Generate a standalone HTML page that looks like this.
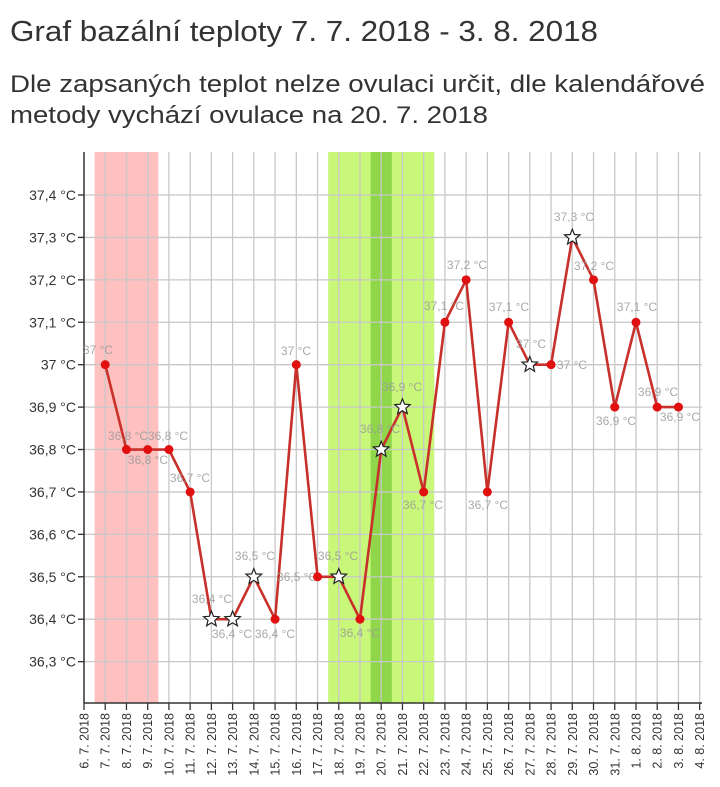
<!DOCTYPE html>
<html><head><meta charset="utf-8"><style>
body{margin:0;background:#fff;width:720px;height:782px;overflow:hidden;font-family:"Liberation Sans",sans-serif}
</style></head><body>
<svg width="720" height="782" xmlns="http://www.w3.org/2000/svg" font-family="Liberation Sans, sans-serif">
<text x="10" y="41" font-size="29" fill="#333" textLength="588" lengthAdjust="spacingAndGlyphs">Graf bazální teploty 7. 7. 2018 - 3. 8. 2018</text>
<text x="10" y="92" font-size="24" fill="#333" textLength="695" lengthAdjust="spacingAndGlyphs">Dle zapsaných teplot nelze ovulaci určit, dle kalendářové</text>
<text x="10" y="123" font-size="24" fill="#333" textLength="478" lengthAdjust="spacingAndGlyphs">metody vychází ovulace na 20. 7. 2018</text>
<g id="c"></g>
</svg>
<script>
const g=document.getElementById('c');const NS='http://www.w3.org/2000/svg';
function el(t,a,txt){const e=document.createElementNS(NS,t);for(const k in a)e.setAttribute(k,a[k]);if(txt!==undefined)e.textContent=txt;g.appendChild(e);return e;}
const x0=84,dx=21.23,X=i=>x0+i*dx,Y=v=>195+(37.4-v)*424.2;
el('rect',{x:X(1)-dx/2,y:152,width:dx*3,height:551,fill:'#ffc0c0'});
el('rect',{x:X(12)-dx/2,y:152,width:dx*5,height:551,fill:'#c8f77a'});
el('rect',{x:X(14)-dx/2,y:152,width:dx,height:551,fill:'#8fd64a'});
for(let i=1;i<=29;i++)el('line',{x1:X(i),y1:152,x2:X(i),y2:703,stroke:'#c8c8c8','stroke-width':1.3});
const yl=['37,4','37,3','37,2','37,1','37','36,9','36,8','36,7','36,6','36,5','36,4','36,3'];
yl.forEach((l,j)=>{const y=Y(37.4-j*0.1);el('line',{x1:78,y1:y,x2:702,y2:y,stroke:'#c8c8c8','stroke-width':1.3});el('line',{x1:78,y1:y,x2:84,y2:y,stroke:'#333','stroke-width':1.3});el('text',{x:76,y:y+5,'font-size':14,fill:'#333','text-anchor':'end'},l+' °C');});
el('line',{x1:84,y1:152,x2:84,y2:703,stroke:'#333','stroke-width':1.5});
el('line',{x1:84,y1:703,x2:702,y2:703,stroke:'#333','stroke-width':1.5});
const dates=[];for(let d=6;d<=31;d++)dates.push(d+'. 7. 2018');for(let d=1;d<=4;d++)dates.push(d+'. 8. 2018');
dates.forEach((d,i)=>{const x=X(i);el('line',{x1:x,y1:703,x2:x,y2:710,stroke:'#333','stroke-width':1.3});el('text',{x:0,y:0,'font-size':12.5,fill:'#333','text-anchor':'end',transform:`translate(${x+4.5},713) rotate(-90)`},d);});
const v=[37,36.8,36.8,36.8,36.7,36.4,36.4,36.5,36.4,37,36.5,36.5,36.4,36.8,36.9,36.7,37.1,37.2,36.7,37.1,37,37,37.3,37.2,36.9,37.1,36.9,36.9];
const star=[0,0,0,0,0,1,1,1,0,0,0,1,0,1,1,0,0,0,0,0,1,0,1,0,0,0,0,0];
const lab=[[98,354],[128,440],[148,464],[168,440],[190,482],[212,603],[232,638],[255,560],[275,638],[296,355],[297,581],[338,560],[360,637],[380,433],[402,391],[423,509],[444,310],[467,269],[488,509],[509,311],[531,348],[572,369],[574,221],[594,270],[616,425],[637,311],[658,396],[680,421]];
let p=v.map((t,i)=>X(i+1)+','+Y(t)).join(' ');
el('polyline',{points:p,fill:'none',stroke:'#c8302a','stroke-width':2.6});
v.forEach((t,i)=>{const x=X(i+1),y=Y(t);
 const txt=(t===37?'37':String(t).replace('.',','))+' °C';
 el('text',{x:lab[i][0],y:lab[i][1],'font-size':12,fill:'#9a9a9a','text-anchor':'middle','fill-opacity':0.85},txt);
 if(star[i]){let s='';for(let k=0;k<10;k++){const r=k%2?3.6:8.2,a=-Math.PI/2+k*Math.PI/5;s+=(x+r*Math.cos(a)).toFixed(1)+','+(y+r*Math.sin(a)).toFixed(1)+' ';}
  el('polygon',{points:s,fill:'#fff',stroke:'#222','stroke-width':1.2});}
 else el('circle',{cx:x,cy:y,r:4.5,fill:'#e01010'});
});
</script>
</body></html>
